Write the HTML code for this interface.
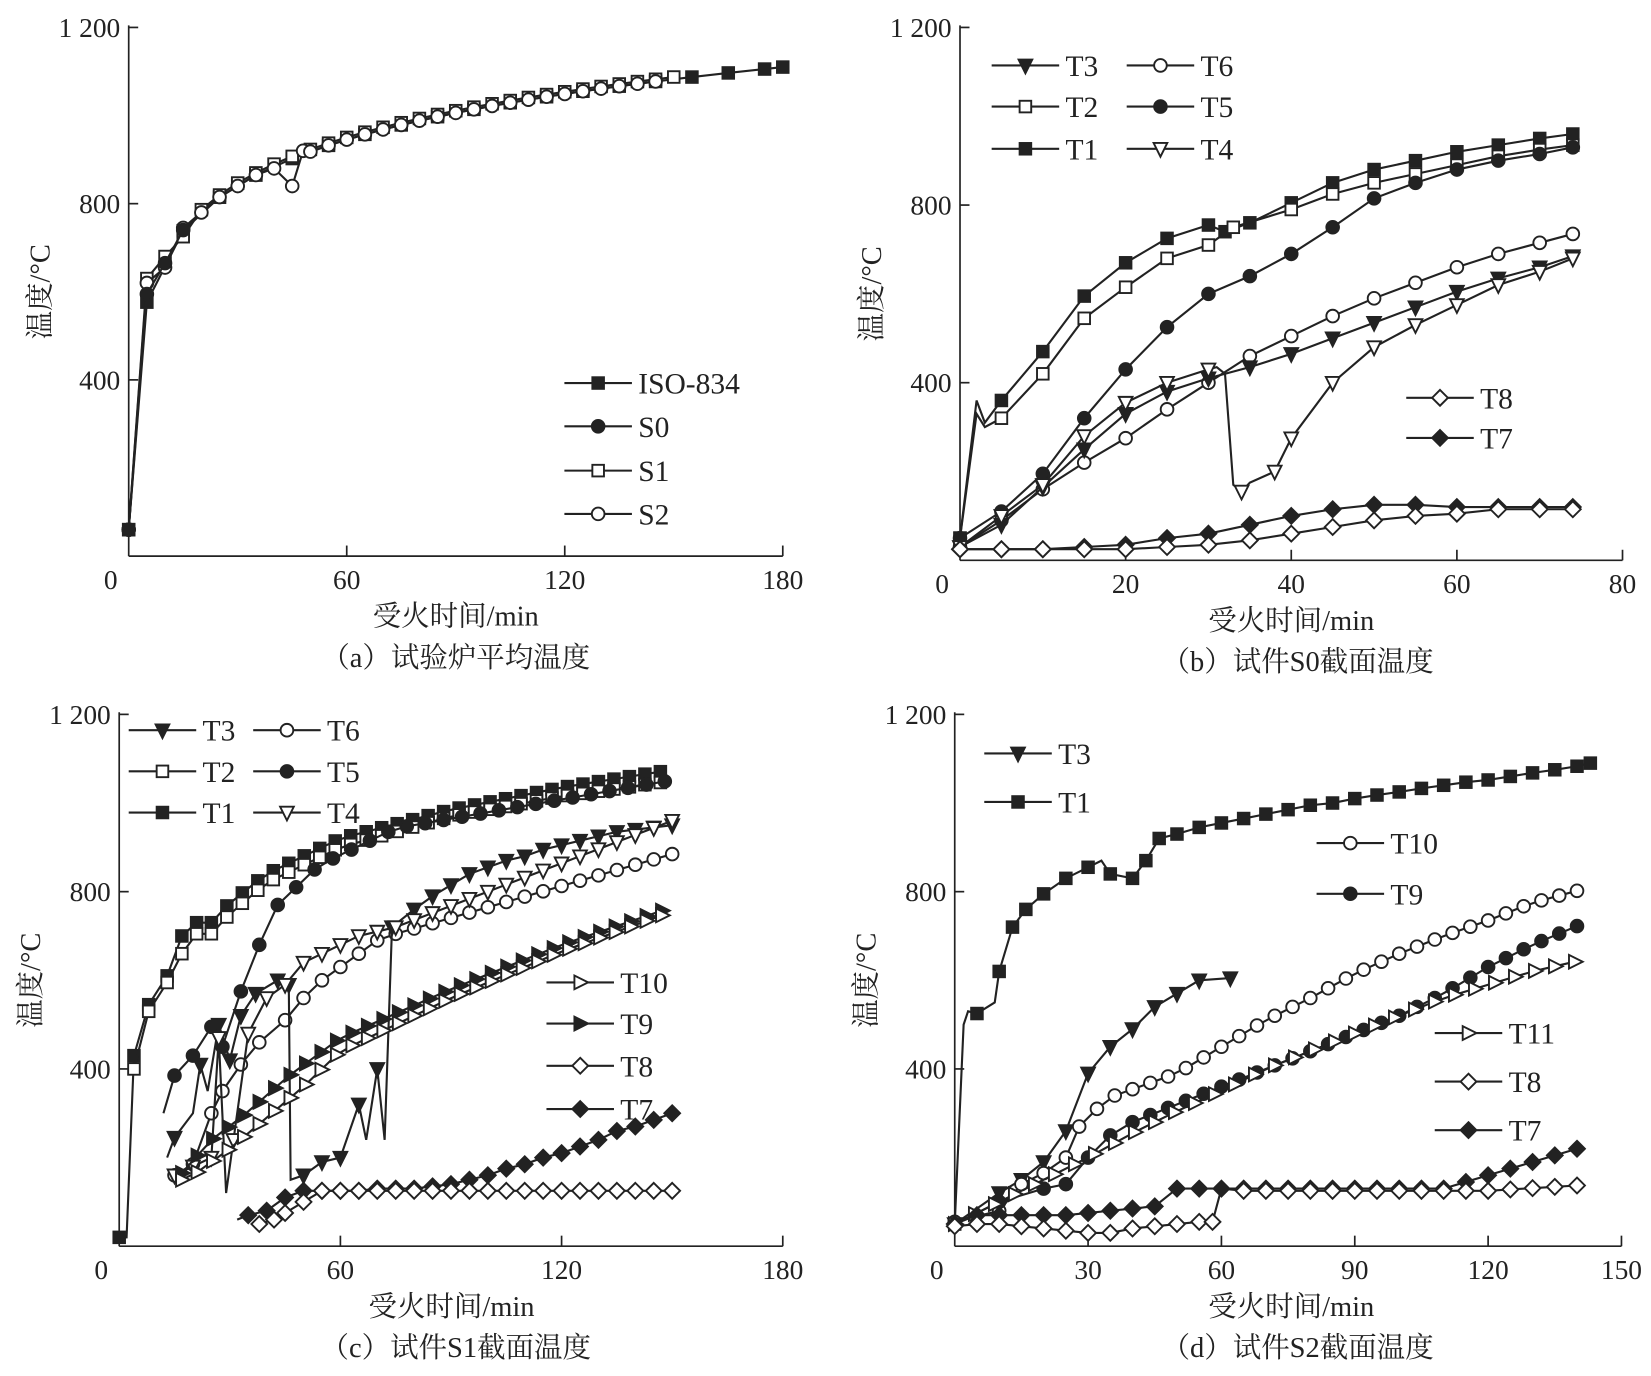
<!DOCTYPE html>
<html><head><meta charset="utf-8">
<style>
html,body{margin:0;padding:0;background:#fff;}
svg{display:block;}
text{font-family:"Liberation Serif","Noto Serif CJK SC",serif;fill:#222;}
</style></head>
<body>
<svg id="s" width="1651" height="1376" viewBox="0 0 1565 1304" preserveAspectRatio="none" xmlns="http://www.w3.org/2000/svg">
<rect width="1565" height="1304" fill="#fff"/>
</svg>
<script>
const S=document.getElementById('s');const NS='http://www.w3.org/2000/svg';
function el(t,a,txt){const e=document.createElementNS(NS,t);for(const k in a)e.setAttribute(k,a[k]);if(txt!==undefined)e.textContent=txt;S.appendChild(e);return e;}
const C='#222';
function marker(type,x,y){
 const r=6.5;
 const fill=type.startsWith('f')?C:'#fff';
 const a={fill:fill,stroke:C,'stroke-width':1.8};
 const k=type.slice(1);
 if(k=='sq'){a.x=x-r+1;a.y=y-r+1;a.width=2*r-2;a.height=2*r-2;el('rect',a);}
 else if(k=='ci'){a.cx=x;a.cy=y;a.r=r-0.5;el('circle',a);}
 else if(k=='dt'){a.points=`${x-r},${y-r+1} ${x+r},${y-r+1} ${x},${y+r+1}`;el('polygon',a);}
 else if(k=='rt'){a.points=`${x-r+1},${y-r} ${x-r+1},${y+r} ${x+r+1},${y}`;el('polygon',a);}
 else if(k=='di'){a.points=`${x},${y-r-1} ${x+r+1},${y} ${x},${y+r+1} ${x-r-1},${y}`;el('polygon',a);}
}
function panel(P){
 const X=v=>P.x0+(v-P.xmin)*(P.x1-P.x0)/(P.xmax-P.xmin);
 const Y=v=>P.y0-v*(P.y0-P.y1)/1200;
 el('line',{x1:P.x0,y1:P.y1-2,x2:P.x0,y2:P.y0,stroke:C,'stroke-width':1.6});
 el('line',{x1:P.x0,y1:P.y0,x2:P.x1,y2:P.y0,stroke:C,'stroke-width':1.6});
 [400,800,1200].forEach(v=>{el('line',{x1:P.x0,y1:Y(v),x2:P.x0+9,y2:Y(v),stroke:C,'stroke-width':1.6});
  el('text',{x:P.x0-8,y:Y(v)+9,'text-anchor':'end','font-size':26},v==1200?'1 200':v);});
 P.xt.forEach(v=>{if(v!=P.xmin)el('line',{x1:X(v),y1:P.y0,x2:X(v),y2:P.y0-10,stroke:C,'stroke-width':1.6});
  el('text',{x:v==P.xmin?X(v)-17:X(v),y:P.y0+31,'text-anchor':'middle','font-size':26},v);});
 el('text',{x:P.xl,y:P.y0+66,'text-anchor':'middle','font-size':27},'受火时间/min');
 el('text',{x:P.cl,y:P.y0+105,'text-anchor':'middle','font-size':27},P.cap);
 const yy=(P.y0+P.y1)/2;
 el('text',{x:P.x0-75,y:yy,'text-anchor':'middle','font-size':27,transform:`rotate(-90 ${P.x0-75} ${yy})`},'温度/°C');
 P.series.forEach(s=>{
  const pts=s.d.map(p=>[X(p[0]),Y(p[1])]);
  el('polyline',{points:pts.map(p=>p.join(',')).join(' '),fill:'none',stroke:C,'stroke-width':2});
  if(s.raw){return;}
  pts.forEach((p,i)=>{if(!s.skip||!s.skip.includes(i))marker(s.m,p[0],p[1]);});
 });
 (P.leg||[]).forEach(l=>{el('line',{x1:l[0],y1:l[1],x2:l[0]+64,y2:l[1],stroke:C,'stroke-width':2});marker(l[2],l[0]+32,l[1]);
  el('text',{x:l[0]+70,y:l[1]+10,'font-size':28},l[3]);});
}
function gen(f,a,b,st){const r=[];for(let t=a;t<=b+0.01;t+=st)r.push([t,f(t)]);return r;}
function ip(pts){return t=>{for(let i=0;i<pts.length-1;i++){if(t<=pts[i+1][0]){const[a,b]=[pts[i],pts[i+1]];return a[1]+(b[1]-a[1])*(t-a[0])/(b[0]-a[0]);}}return pts[pts.length-1][1];};}
const iso=t=>20+345*Math.log10(8*t+1);
// Panel a
panel({x0:122,x1:742,y0:527,y1:26,xmin:0,xmax:180,xt:[0,60,120,180],xl:432,cl:432,cap:'（a）试验炉平均温度',
series:[
 {m:'fsq',d:[[0,60]].concat(gen(iso,5,175,10)).concat([[180,1110]])},
 {m:'osq',d:[[0,60],[5,630],[10,680],[15,725]].concat(gen(t=>iso(t)+5,20,150,5))},
 {m:'oci',d:[[0,60],[5,620],[10,655],[15,745],[20,780],[25,815],[30,840],[35,865],[40,880],[45,840],[48,920]].concat(gen(iso,50,145,5))},
 {m:'fci',d:[[0,60],[5,595],[10,665],[15,740]]},
],
leg:[[535,363,'fsq','ISO-834'],[535,404,'fci','S0'],[535,446,'osq','S1'],[535,487,'oci','S2']]});
// Panel b
panel({x0:910,x1:1538,y0:531,y1:26,xmin:0,xmax:80,xt:[0,20,40,60,80],xl:1224,cl:1230,cap:'（b）试件S0截面温度',
series:[
 {m:'fsq',d:[[0,50],[2,360],[3,310],[5,360],[10,470],[15,595],[20,670],[25,725],[30,755],[32,740],[35,760],[40,805],[45,850],[50,880],[55,900],[60,920],[65,935],[70,950],[74,960]],skip:[1,2]},
 {m:'osq',d:[[0,50],[2,330],[3,300],[5,320],[10,420],[15,545],[20,615],[25,680],[30,710],[33,750],[40,790],[45,825],[50,850],[55,870],[60,890],[65,910],[70,925],[74,935]],skip:[1,2]},
 {m:'fci',d:[[0,50],[5,110],[10,195],[15,320],[20,430],[25,525],[30,600],[35,640],[40,690],[45,750],[50,815],[55,850],[60,880],[65,900],[70,915],[74,930]]},
 {m:'oci',d:[[0,30],[5,90],[10,160],[15,220],[20,275],[25,340],[30,400],[35,460],[40,505],[45,550],[50,590],[55,625],[60,660],[65,690],[70,715],[74,735]]},
 {m:'fdt',d:[[0,30],[5,80],[10,165],[15,250],[20,330],[25,380],[30,410],[35,435],[40,465],[45,500],[50,535],[55,570],[60,605],[65,635],[70,660],[74,685]]},
 {m:'odt',d:[[0,30],[5,100],[10,170],[15,280],[20,355],[25,400],[30,430],[31,435],[32,420],[33,170],[34,155],[35,175],[38,200],[40,275],[45,400],[50,480],[55,530],[60,575],[65,620],[70,650],[74,680]],skip:[7,8,9,11]},
 {m:'fdi',d:[[0,25],[5,25],[10,25],[15,30],[20,35],[25,50],[30,60],[35,80],[40,100],[45,115],[50,125],[55,125],[60,120],[65,120],[70,120],[74,120]]},
 {m:'odi',d:[[0,25],[5,25],[10,25],[15,25],[20,25],[25,30],[30,35],[35,45],[40,60],[45,75],[50,90],[55,100],[60,105],[65,115],[70,115],[74,115]]},
],
leg:[[940,62,'fdt','T3'],[1068,62,'oci','T6'],[940,101,'osq','T2'],[1068,101,'fci','T5'],[940,141,'fsq','T1'],[1068,141,'odt','T4'],[1333,377,'odi','T8'],[1333,415,'fdi','T7']]});
// Panel c
const c1=ip([[25,730],[30,775],[40,840],[50,880],[60,920],[90,985],[120,1035],[150,1075]]);
const c2=ip([[25,705],[30,750],[40,820],[50,860],[60,900],[90,970],[120,1015],[150,1050]]);
panel({x0:113,x1:742,y0:1181,y1:677,xmin:0,xmax:180,xt:[0,60,120,180],xl:428,cl:432,cap:'（c）试件S1截面温度',
series:[
 {m:'fsq',d:[[0,20],[2,20],[4,430],[8,545],[13,610],[17,700],[21,730]].concat(gen(c1,25,150,4.2)),skip:[1]},
 {m:'osq',d:[[4,400],[8,530],[13,595],[17,660],[21,705]].concat(gen(c2,25,150,4.2))},
 {m:'fci',d:[[0,20],[2,20]],raw:1},
 {m:'fci',d:[[12,300],[15,385],[20,430],[25,495],[28,450],[33,575],[38,680],[43,770],[48,810],[53,850],[58,875],[63,895],[68,915],[73,935]].concat(gen(t=>940+(t-73)*1.45,78,150,5)),skip:[0]},
 {m:'oci',d:[[15,160],[20,185],[25,300],[28,350],[33,410],[38,460],[45,510],[50,560],[55,600],[60,630],[65,660],[70,690]].concat(gen(t=>700+(t-73)*2.4,75,150,5))},
 {m:'fdt',d:[[13,200],[15,245],[20,300],[22,410],[24,350],[27,500],[30,420],[33,520],[37,570],[43,600],[46,590],[46.5,150],[50,160],[55,190],[60,200],[65,320],[67,240],[70,400],[72,240],[74,720],[80,760],[85,790],[90,815],[95,840],[100,855],[105,870],[110,880],[115,895],[120,905],[125,915],[130,925],[135,935],[140,940],[145,945],[150,950]],skip:[0,2,4,11,16,18]},
 {m:'odt',d:[[15,160],[20,180],[25,200],[27,470],[29,120],[31,240],[35,480],[40,560],[45,590],[50,640],[55,660],[60,680],[65,700],[70,710]].concat(gen(t=>720+(t-75)*3.2,75,150,5)),skip:[4]},
 {m:'frt',d:gen(ip([[17,165],[25,240],[33,290],[40,340],[45,378],[60,470],[90,580],[120,680],[150,765]]),17,150,4.2)},
 {m:'ort',d:gen(ip([[17,150],[20,160],[30,220],[40,290],[50,360],[60,440],[90,560],[120,665],[150,755]]),17,150,4.2)},
 {m:'fdi',d:[[32,60],[35,70],[40,80],[45,110],[50,125],[55,125],[60,125],[65,125],[70,130],[75,130],[80,130],[85,135],[90,140],[95,150],[100,160],[105,175],[110,185],[115,200],[120,210],[125,225],[130,240],[135,260],[140,270],[145,285],[150,300]],skip:[0]},
 {m:'odi',d:[[38,50],[42,60],[45,75],[50,100],[55,125]].concat(gen(t=>125,60,150,5))},
],
leg:[[122,692,'fdt','T3'],[240,692,'oci','T6'],[122,731,'osq','T2'],[240,731,'fci','T5'],[122,770,'fsq','T1'],[240,770,'odt','T4'],[518,931,'ort','T10'],[518,970,'frt','T9'],[518,1010,'odi','T8'],[518,1051,'fdi','T7']]});
// Panel d
panel({x0:905,x1:1537,y0:1181,y1:677,xmin:0,xmax:150,xt:[0,30,60,90,120,150],xl:1224,cl:1230,cap:'（d）试件S2截面温度',
series:[
 {m:'fsq',d:[[0,50],[2,500],[3,530],[5,525],[9,550],[10,620],[13,720],[16,760],[20,795],[25,830],[30,855],[33,870],[35,840],[40,830],[43,870],[46,920],[50,930],[55,945],[60,955],[65,965],[70,975],[75,985],[80,995],[85,1000],[90,1010],[95,1018],[100,1025],[105,1033],[110,1040],[115,1047],[120,1052],[125,1060],[130,1068],[135,1075],[140,1083],[143,1090]],skip:[1,2,4,11]},
 {m:'fdt',d:[[0,50],[10,120],[15,150],[20,190],[25,260],[30,390],[35,450],[40,490],[45,540],[50,570],[55,600],[62,605]]},
 {m:'oci',d:[[0,55],[10,80],[15,140],[20,165],[25,200],[28,270],[32,310],[36,340]].concat(gen(ip([[36,340],[50,390],[60,450],[70,510],[80,560],[90,615],[100,660],[110,700],[120,735],[130,775],[143,810]]),40,143,4))},
 {m:'fci',d:[[0,50],[10,100],[20,130],[25,140],[30,200],[35,250],[40,280]].concat(gen(ip([[40,280],[50,320],[60,360],[70,400],[80,440],[90,480],[100,520],[110,570],[120,630],[130,680],[143,735]]),44,143,4))},
 {m:'ort',d:gen(ip([[0,50],[10,100],[20,150],[30,200],[40,255],[50,305],[60,350],[70,400],[80,440],[90,480],[100,520],[110,560],[120,590],[130,620],[143,650]]),0,143,4.5)},
 {m:'fdi',d:[[0,50],[5,70],[10,70],[15,70],[20,70],[25,70],[30,75],[35,80],[40,85],[45,90],[50,130],[55,130]].concat(gen(t=>t<110?130:130+(t-110)*3,60,143,5))},
 {m:'odi',d:[[0,45],[5,50],[10,50],[15,45],[20,40],[25,35],[30,30],[35,30],[40,40],[45,45],[50,50],[55,55],[58,55],[60,130]].concat(gen(t=>t<120?125:125+(t-120)*0.6,65,143,5)),skip:[13]},
],
leg:[[933,714,'fdt','T3'],[933,760,'fsq','T1'],[1248,799,'oci','T10'],[1248,847,'fci','T9'],[1360,979,'ort','T11'],[1360,1025,'odi','T8'],[1360,1071,'fdi','T7']]});
</script>
</body></html>
